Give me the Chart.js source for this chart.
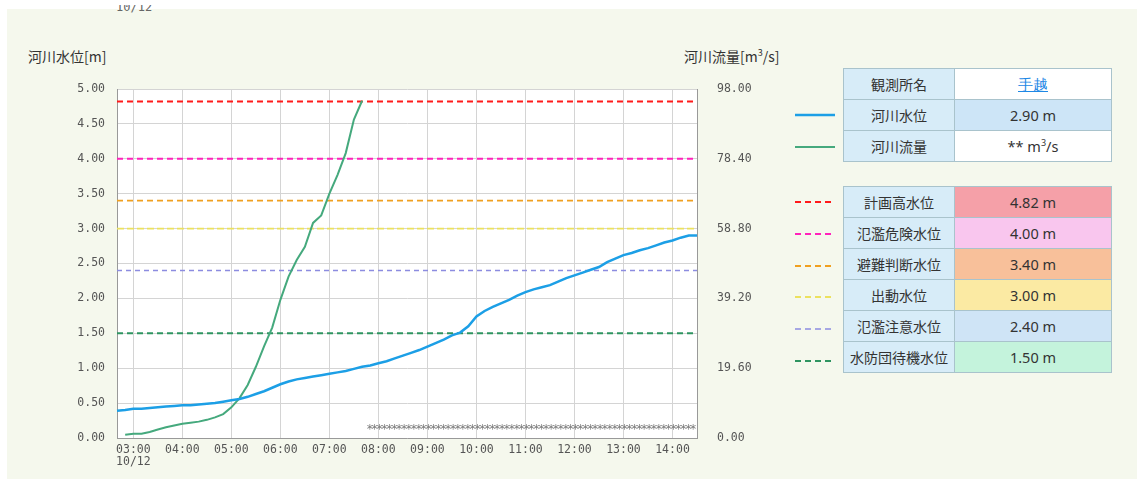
<!DOCTYPE html>
<html>
<head>
<meta charset="utf-8">
<script src="https://cdn.jsdelivr.net/npm/chart.js@4.4.0/dist/chart.umd.min.js"></script>
<style>
  body { margin: 0; background: #ffffff; width: 1144px; height: 484px; overflow: hidden; position: relative; }
  #bg { position: absolute; left: 7px; top: 9px; width: 1130px; height: 470px; background: #f5f8ed; }
  #chartBox { position: absolute; left: 0; top: 0; width: 800px; height: 484px; }
  .axisTitle { position: absolute; top: 46px; font: 14px "Noto Sans CJK JP", sans-serif; color: #333; white-space: nowrap; }
  #topDate { position: absolute; left: 116px; top: 5px; height: 12px; overflow: hidden; }
  #topDate span { display: block; margin-top: -5px; font: 12px "DejaVu Sans Mono", monospace; color: #666; }
  table.info { position: absolute; left: 843px; border-collapse: collapse; width: 269px;
    font: 14px "Noto Sans CJK JP", sans-serif; color: #333; }
  table.info td { border: 1px solid #a9c3cc; height: 30px; padding: 0; text-align: center; }
  table.info td.name { width: 110px; background: #d7ecf8; }
  table.info td.val { font-family: "Noto Sans", sans-serif; font-size: 14.5px; }
  table.info a { color: #1e88e5; text-decoration: underline; }
  svg.sample { position: absolute; left: 795px; width: 40px; height: 6px; }
</style>
</head>
<body>
<div id="bg"></div>
<div id="topDate"><span>10/12</span></div>
<div class="axisTitle" style="left:28px">河川水位[m]</div>
<div class="axisTitle" style="left:684px">河川流量[m<sup style="font-size:9px">3</sup>/s]</div>
<div id="chartBox"><canvas id="riverChart"></canvas></div>
<table class="info" id="seriesTable" style="top:68px"></table>
<table class="info" id="levelTable" style="top:186px"></table>
<script>
// 10分毎の時刻
const timeLabels = [
  "02:40","02:50",
  "03:00","03:10","03:20","03:30","03:40","03:50",
  "04:00","04:10","04:20","04:30","04:40","04:50",
  "05:00","05:10","05:20","05:30","05:40","05:50",
  "06:00","06:10","06:20","06:30","06:40","06:50",
  "07:00","07:10","07:20","07:30","07:40","07:50",
  "08:00","08:10","08:20","08:30","08:40","08:50",
  "09:00","09:10","09:20","09:30","09:40","09:50",
  "10:00","10:10","10:20","10:30","10:40","10:50",
  "11:00","11:10","11:20","11:30","11:40","11:50",
  "12:00","12:10","12:20","12:30","12:40","12:50",
  "13:00","13:10","13:20","13:30","13:40","13:50",
  "14:00","14:10","14:20","14:30"
];
const firstDate = "10/12";

// 河川水位 [m]
const waterLevel = [
  0.39, 0.40,
  0.42, 0.42, 0.43, 0.44, 0.45, 0.46,
  0.47, 0.47, 0.48, 0.49, 0.50, 0.52,
  0.54, 0.56, 0.59, 0.63, 0.67, 0.72,
  0.77, 0.81, 0.84, 0.86, 0.88, 0.90,
  0.92, 0.94, 0.96, 0.99, 1.02, 1.04,
  1.07, 1.10, 1.14, 1.18, 1.22, 1.26,
  1.31, 1.36, 1.41, 1.47, 1.51, 1.60,
  1.74, 1.82, 1.88, 1.93, 1.98, 2.04,
  2.09, 2.13, 2.16, 2.19, 2.24, 2.29,
  2.33, 2.37, 2.41, 2.45, 2.52, 2.57,
  2.62, 2.65, 2.69, 2.72, 2.76, 2.80,
  2.83, 2.87, 2.90, 2.90
];

// 河川流量 [m3/s]  (07:50以降は欠測)
const riverFlow = [
  null, 0.9,
  1.2, 1.2, 1.7, 2.4, 3.0, 3.5,
  4.0, 4.3, 4.6, 5.1, 5.8, 6.7,
  8.6, 11.2, 14.9, 20.0, 25.7, 31.0,
  38.8, 45.3, 50.0, 53.7, 60.4, 62.5,
  68.6, 73.9, 80.0, 89.4, 94.7, null,
  null, null, null, null, null, null,
  null, null, null, null, null, null,
  null, null, null, null, null, null,
  null, null, null, null, null, null,
  null, null, null, null, null, null,
  null, null, null, null, null, null,
  null, null, null, null
];
const missingFrom = "07:50";

const levelTicks = [0, 0.5, 1.0, 1.5, 2.0, 2.5, 3.0, 3.5, 4.0, 4.5, 5.0];
const flowTicks = [0, 19.6, 39.2, 58.8, 78.4, 98.0];

const stationName = "手越";
const seriesNames = ["河川水位", "河川流量"];
const seriesValues = ["2.90 m", "** m<sup style=\"font-size:9px\">3</sup>/s"];
const seriesColors = ["#1c9fe6", "#45a97d"];

const levelNames = ["計画高水位", "氾濫危険水位", "避難判断水位", "出動水位", "氾濫注意水位", "水防団待機水位"];
const levelValues = [4.82, 4.00, 3.40, 3.00, 2.40, 1.50];
const levelColors = ["#ff1a1a", "#ff22bb", "#f0a020", "#ece15e", "#8c8ce0", "#2e9460"];
const levelCellColors = ["#f5a0a8", "#f9c6ee", "#f8c09a", "#fbeaa3", "#cfe4f6", "#c4f3dc"];
const levelWidths = [2, 2, 1.8, 1.8, 1.3, 2];
const levelDash = [[6, 4], [6, 4], [6, 4], [7, 3], [5, 4], [6, 4]];

// ---- 表 ----
const st = document.getElementById("seriesTable");
st.innerHTML = '<tr><td class="name">観測所名</td><td class="val" style="background:#fff"><a>' + stationName + '</a></td></tr>' +
  seriesNames.map((n, i) =>
    '<tr><td class="name">' + n + '</td><td class="val" style="background:' + (i === 0 ? '#cde5f7' : '#fff') + '">' + seriesValues[i] + '</td></tr>'
  ).join("");
const lt = document.getElementById("levelTable");
lt.innerHTML = levelNames.map((n, i) =>
  '<tr><td class="name">' + n + '</td><td class="val" style="background:' + levelCellColors[i] + '">' + levelValues[i].toFixed(2) + ' m</td></tr>'
).join("");

// 凡例の線
function addSample(top, color, dash, w) {
  const ns = "http://www.w3.org/2000/svg";
  const svg = document.createElementNS(ns, "svg");
  svg.setAttribute("class", "sample");
  svg.style.top = (top - 3) + "px";
  const ln = document.createElementNS(ns, "line");
  ln.setAttribute("x1", 0); ln.setAttribute("x2", 40);
  ln.setAttribute("y1", 3); ln.setAttribute("y2", 3);
  ln.setAttribute("stroke", color);
  ln.setAttribute("stroke-width", w);
  if (dash) ln.setAttribute("stroke-dasharray", dash.join(" "));
  svg.appendChild(ln);
  document.body.appendChild(svg);
}
addSample(115, seriesColors[0], null, 2.5);
addSample(147, seriesColors[1], null, 2);
levelNames.forEach((n, i) => addSample(202 + i * 31.8, levelColors[i], [6, 4], levelWidths[i]));

// ---- グラフ ----
const plotBg = {
  id: "plotBg",
  beforeDraw(chart) {
    const a = chart.chartArea, ctx = chart.ctx;
    ctx.save();
    ctx.fillStyle = "#ffffff";
    ctx.fillRect(a.left, a.top, a.right - a.left, a.bottom - a.top);
    ctx.restore();
  }
};

// 欠測表示 (*****)
const missingMarks = {
  id: "missingMarks",
  afterDatasetsDraw(chart) {
    const x = chart.scales.x, a = chart.chartArea, ctx = chart.ctx;
    const start = x.getPixelForValue(timeLabels.indexOf(missingFrom)) - 3;
    ctx.save();
    ctx.fillStyle = "#7a7a7a";
    ctx.font = "12px 'DejaVu Sans Mono'";
    ctx.textAlign = "center";
    ctx.textBaseline = "middle";
    for (let px = start; px < a.right - 2; px += 4.9) {
      ctx.fillText("*", px + 2.5, a.bottom - 8);
    }
    ctx.restore();
  }
};

const datasets = [
  {
    label: seriesNames[0], data: waterLevel, yAxisID: "y",
    borderColor: seriesColors[0], borderWidth: 2.5, pointRadius: 0, tension: 0
  },
  {
    label: seriesNames[1], data: riverFlow, yAxisID: "y2",
    borderColor: seriesColors[1], borderWidth: 2, pointRadius: 0, tension: 0, spanGaps: false
  }
].concat(levelNames.map((n, i) => ({
  label: n,
  data: [{ x: timeLabels[0], y: levelValues[i] }, { x: timeLabels[timeLabels.length - 1], y: levelValues[i] }],
  yAxisID: "y",
  borderColor: levelColors[i],
  borderWidth: levelWidths[i],
  borderDash: levelDash[i],
  pointRadius: 0
})));

Chart.defaults.font.family = "'DejaVu Sans Mono', monospace";

new Chart(document.getElementById("riverChart"), {
  type: "line",
  data: { labels: timeLabels, datasets: datasets },
  options: {
    responsive: true,
    maintainAspectRatio: false,
    animation: false,
    layout: { padding: { top: 89, left: 0, right: 0, bottom: 0 } },
    plugins: { legend: { display: false }, tooltip: { enabled: false } },
    scales: {
      x: {
        type: "category",
        offset: false,
        grid: { color: "#d4d4d4", drawTicks: false },
        border: { color: "#999" },
        ticks: {
          autoSkip: false, maxRotation: 0, padding: 6,
          color: "#555", font: { size: 11.5, lineHeight: 1.05 },
          callback: function (v, i) {
            const t = timeLabels[i];
            if (!t.endsWith(":00")) return null;
            return t === "03:00" ? [t, firstDate] : t;
          }
        },
        afterFit: s => { s.height = 46; }
      },
      y: {
        position: "left", min: 0, max: 5,
        grid: { color: "#d4d4d4", drawTicks: false },
        border: { color: "#999" },
        afterBuildTicks: s => { s.ticks = levelTicks.map(v => ({ value: v })); },
        ticks: { color: "#555", padding: 12, font: { size: 11.5 }, callback: v => Number(v).toFixed(2) },
        afterFit: s => { s.width = 117; }
      },
      y2: {
        position: "right", min: 0, max: 98,
        grid: { display: false, drawTicks: false },
        border: { color: "#999" },
        afterBuildTicks: s => { s.ticks = flowTicks.map(v => ({ value: v })); },
        ticks: { color: "#555", padding: 20, font: { size: 11.5 }, callback: v => Number(v).toFixed(2) },
        afterFit: s => { s.width = 103; }
      }
    }
  },
  plugins: [plotBg, missingMarks]
});
</script>
</body>
</html>
